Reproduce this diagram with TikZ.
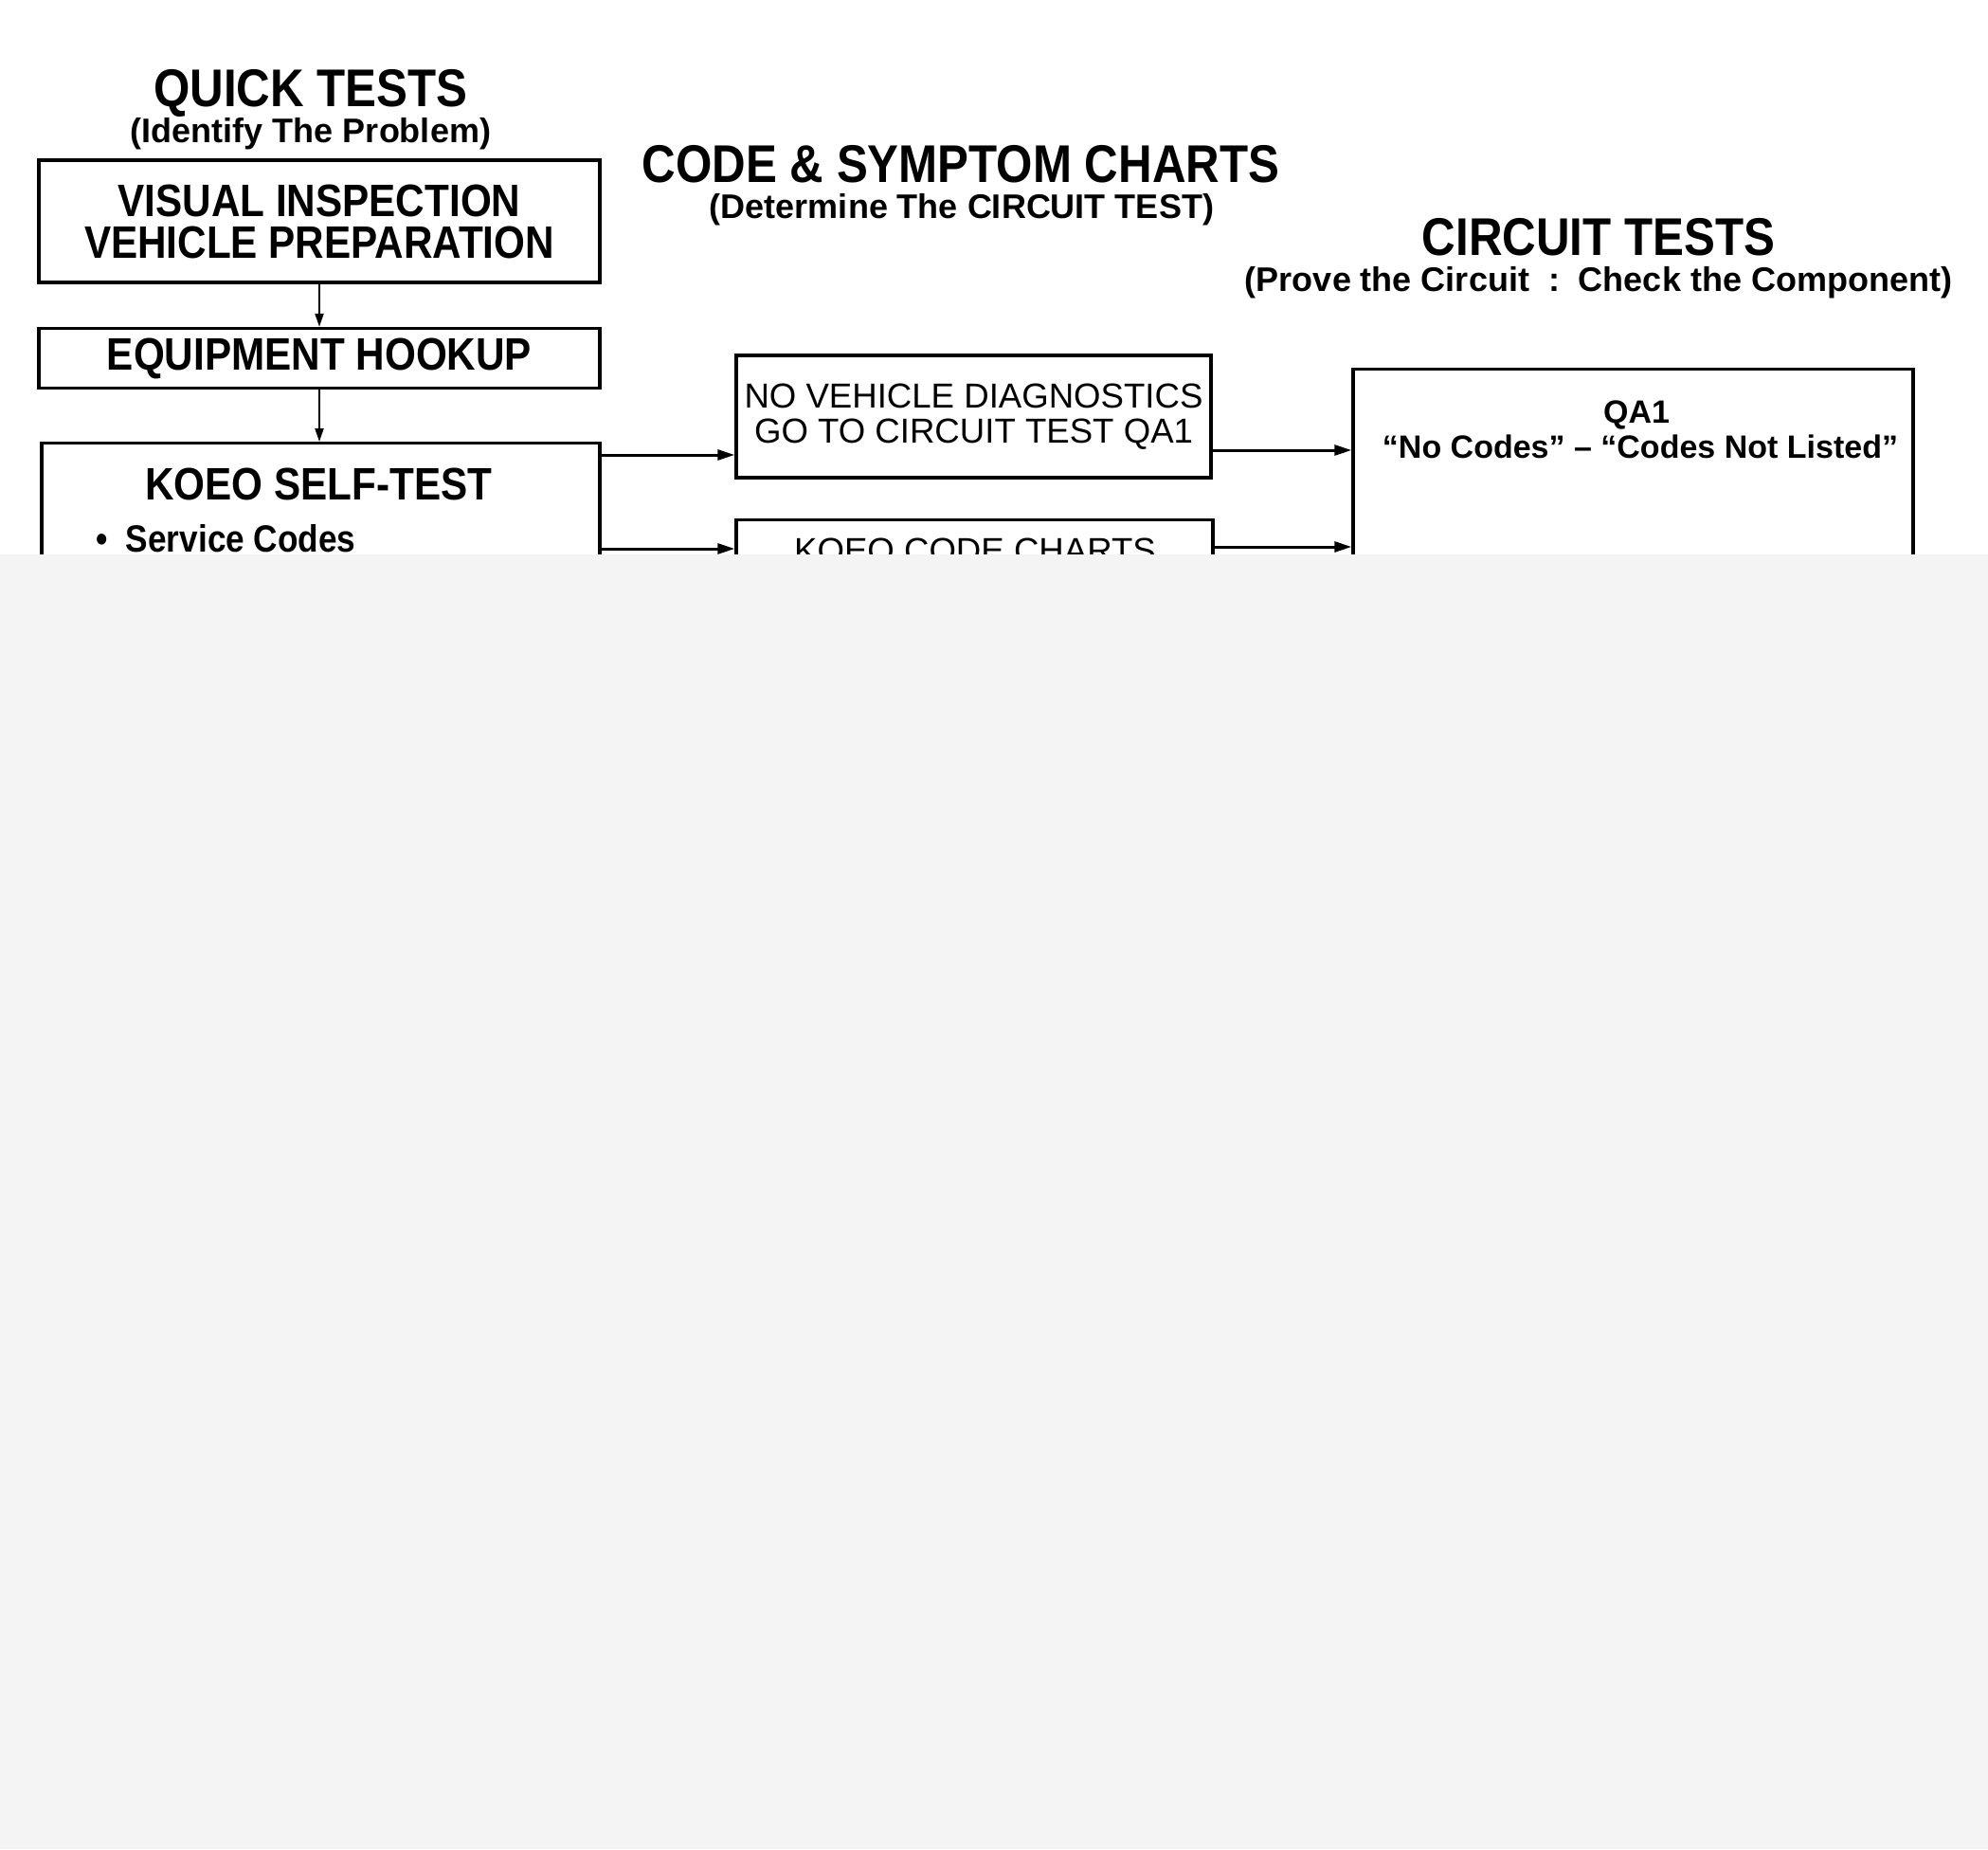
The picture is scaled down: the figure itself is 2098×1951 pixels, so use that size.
\documentclass[tikz,border=0pt]{standalone}
\usepackage{fontspec}
\setmainfont{Liberation Sans}
\newfontfamily\narrowfont{Liberation Sans}[FakeStretch=0.88]
\usetikzlibrary{arrows.meta,positioning}
\tikzset{
  box/.style={draw, line width=1.7pt, inner sep=0pt, align=center},
  head/.style={font=\narrowfont\bfseries\fontsize{28}{30}\selectfont, anchor=base},
  subhead/.style={font=\bfseries\fontsize{18}{20}\selectfont, anchor=base},
  boxtext/.style={font=\narrowfont\bfseries\fontsize{24}{22}\selectfont},
  plaintext/.style={font=\fontsize{18.3}{18.5}\selectfont},
  flow/.style={line width=1.5pt, -{Triangle[length=9pt,width=5.5pt]}},
  downflow/.style={line width=1.1pt, -{Triangle[length=7pt,width=4.5pt]}},
}
\begin{document}
\begin{tikzpicture}[x=0.5pt,y=-0.5pt]
  \useasboundingbox (0,0) rectangle (2098,1951);
  % column titles
  \node[head] (quick) at (328,112) {QUICK TESTS};
  \node[subhead] (quicksub) at (328,150) {(Identify The Problem)};
  \node[head] (charts) at (1014,192) {CODE \& SYMPTOM CHARTS};
  \node[subhead] (chartssub) at (1015,230) {(Determine The CIRCUIT TEST)};
  \node[head] (circuit) at (1687,269) {CIRCUIT TESTS};
  \node[subhead] (circuitsub) at (1687,307) {(Prove the Circuit~~:~~Check the Component)};
  % quick tests column
  \node[box, boxtext, minimum width=296pt, minimum height=64.5pt] (visual) at (337,233.5)
    {VISUAL INSPECTION\\VEHICLE PREPARATION};
  \node[box, boxtext, minimum width=296pt, minimum height=31.5pt] (hookup) at (337,378)
    {EQUIPMENT HOOKUP};
  \node[box, anchor=north, minimum width=294.5pt, minimum height=317pt] (koeo) at (338.5,466) {};
  \node[boxtext, anchor=base] (koeotitle) at (336.5,527) {KOEO SELF-TEST};
  \node[boxtext, font=\narrowfont\bfseries\fontsize{20}{22}\selectfont, anchor=base west]
    (service) at (94,582) {\textbullet\ \ Service Codes};
  % charts column
  \node[box, plaintext, minimum width=250.5pt, minimum height=64.5pt] (novd) at (1027.5,439.5)
    {NO VEHICLE DIAGNOSTICS\\GO TO CIRCUIT TEST QA1};
  \node[box, anchor=north, minimum width=251.5pt, minimum height=250pt] (kcc) at (1028.5,547) {};
  \node[plaintext, anchor=base] (kcctitle) at (1029,593) {KOEO CODE CHARTS};
  % circuit tests column
  \node[box, anchor=north, minimum width=295.5pt, minimum height=300pt] (qa) at (1723.5,388) {};
  \node[font=\bfseries\fontsize{17}{18}\selectfont, anchor=base] (qatitle) at (1727,446) {QA1};
  \node[font=\bfseries\fontsize{17}{18}\selectfont, anchor=base] (qatext) at (1731,483)
    {``No Codes'' -- ``Codes Not Listed''};
  % connectors
  \draw[downflow] (visual.south) -- (hookup.north);
  \draw[downflow] (hookup.south) -- (hookup.south |- koeo.north);
  \coordinate (k1) at (634,480);
  \coordinate (k2) at (634,579);
  \coordinate (n1) at (1278,475);
  \coordinate (n2) at (1280,577);
  \draw[flow] (k1) -- (k1 -| novd.west);
  \draw[flow] (k2) -- (k2 -| kcc.west);
  \draw[flow] (n1) -- (n1 -| qa.west);
  \draw[flow] (n2) -- (n2 -| qa.west);
  % blurred lower part
  \fill[gray!9] (0,585) rectangle (2098,1951);
\end{tikzpicture}
\end{document}
